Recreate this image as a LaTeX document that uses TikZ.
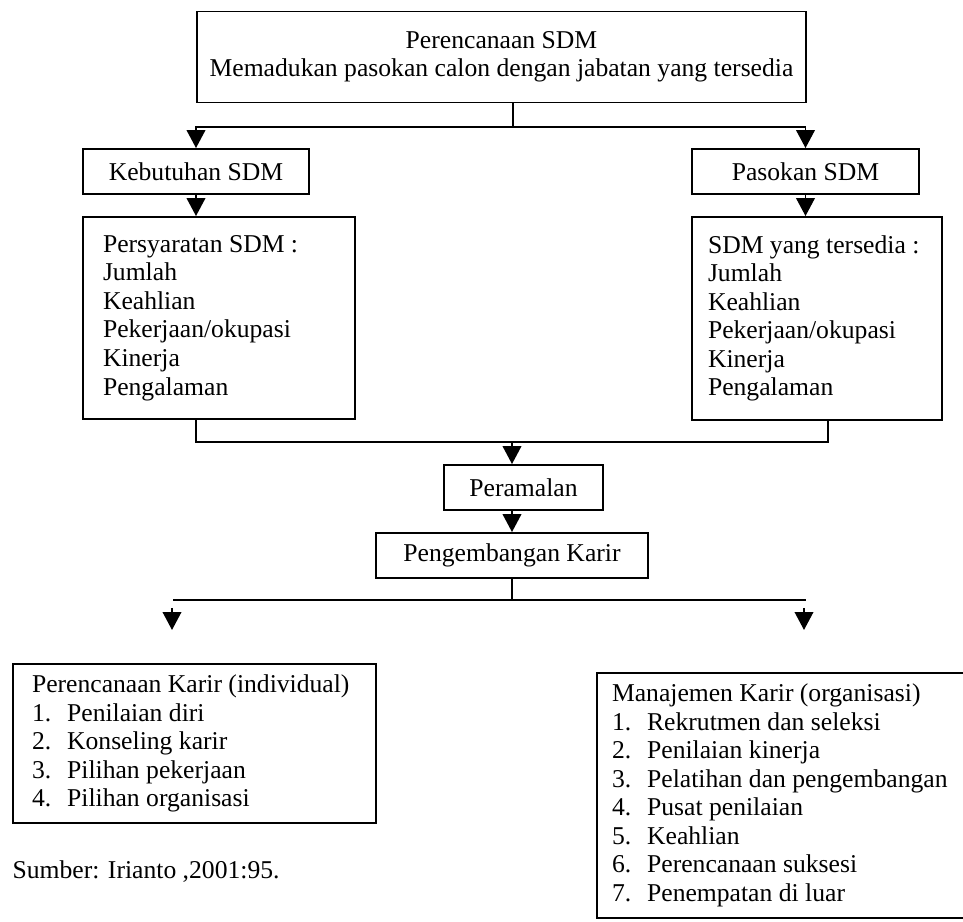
\documentclass[tikz,border=0pt]{standalone}
\usepackage{fontspec}
\setmainfont{Liberation Serif}
\usepackage{tikz}
\usetikzlibrary{positioning,arrows.meta}
\newlength\px
\setlength\px{0.017cm}
\newcommand\itemno[2]{\makebox[17pt][l]{#1.}#2}
\tikzset{
  hdnode/.style={draw,line width=0.9pt,inner sep=0pt,
    minimum height=45\px,
    font=\fontsize{12.4}{13.8}\selectfont,align=center},
  lsnode/.style={draw,line width=0.9pt,inner ysep=0pt,
    font=\fontsize{12.4}{13.8}\selectfont,align=flush left},
  edgeL/.style={line width=0.9pt},
  edgeA/.style={line width=0.9pt,-{Triangle[length=8.7pt,width=9pt]}},
}
\begin{document}
\begin{tikzpicture}[x=0.017cm,y=-0.017cm]
  \useasboundingbox (0,0) rectangle (963,922);
  \node[hdnode,minimum width=609\px,minimum height=91\px] (plan) at (501.5,57)
    {Perencanaan SDM\\Memadukan pasokan calon dengan jabatan yang tersedia};
  \node[hdnode,minimum width=226\px] (need) at (196,171.5) {Kebutuhan SDM};
  \node[hdnode,minimum width=227\px] (supply) at (805.5,171.5) {Pasokan SDM};
  \node[lsnode,inner xsep=20\px,text width=232\px,minimum height=202\px] (req) at (219,318)
    {Persyaratan SDM :\\Jumlah\\Keahlian\\Pekerjaan/okupasi\\Kinerja\\Pengalaman};
  \node[lsnode,inner xsep=16\px,text width=218\px,minimum height=203\px] (avail) at (817,318.5)
    {SDM yang tersedia :\\Jumlah\\Keahlian\\Pekerjaan/okupasi\\Kinerja\\Pengalaman};
  \node[hdnode,minimum width=159\px] (fcast) at (523.5,487.5) {Peramalan};
  \node[hdnode,minimum width=272\px] (career) at (512,555.5) {Pengembangan Karir};
  \node[lsnode,inner xsep=19\px,text width=325\px,minimum height=159\px] (indiv) at (194.5,743.5)
    {Perencanaan Karir (individual)\\\itemno{1}{Penilaian diri}\\\itemno{2}{Konseling karir}\\
     \itemno{3}{Pilihan pekerjaan}\\\itemno{4}{Pilihan organisasi}};
  \node[lsnode,inner xsep=15\px,text width=358\px,minimum height=245\px] (org) at (791,795.5)
    {Manajemen Karir (organisasi)\\\itemno{1}{Rekrutmen dan seleksi}\\\itemno{2}{Penilaian kinerja}\\
     \itemno{3}{Pelatihan dan pengembangan}\\\itemno{4}{Pusat penilaian}\\\itemno{5}{Keahlian}\\
     \itemno{6}{Perencanaan suksesi}\\\itemno{7}{Penempatan di luar}};
  \node[anchor=east,inner sep=0pt,font=\fontsize{12.4}{13.8}\selectfont] (src) at (280,872)
    {Sumber: Irianto ,2001:95.};
  \coordinate (tj) at (513,127);
  \coordinate (mj) at (512,442);
  \coordinate (mr) at (828,442);
  \coordinate (bj) at (512,600);
  \coordinate (bl) at (173,600);
  \coordinate (br) at (806,600);
  \coordinate (al) at (172,608);
  \coordinate (alt) at (172,630);
  \coordinate (ar) at (804,608);
  \coordinate (art) at (804,630);
  \draw[edgeL] (plan.south -| tj) -- (tj);
  \draw[edgeA] (tj) -| (need.north);
  \draw[edgeA] (tj) -| (supply.north);
  \draw[edgeA] (need.south) -- (req.north -| need.south);
  \draw[edgeA] (supply.south) -- (avail.north -| supply.south);
  \draw[edgeL] (req.south -| need.south) |- (mj);
  \draw[edgeL] (avail.south -| mr) -- (mr) -- (mj);
  \draw[edgeA] (mj) -- (fcast.north -| mj);
  \draw[edgeA] (fcast.south -| mj) -- (career.north);
  \draw[edgeL] (career.south) -- (bj);
  \draw[edgeL] (bl) -- (br);
  \draw[edgeA] (al) -- (alt);
  \draw[edgeA] (ar) -- (art);
\end{tikzpicture}
\end{document}
